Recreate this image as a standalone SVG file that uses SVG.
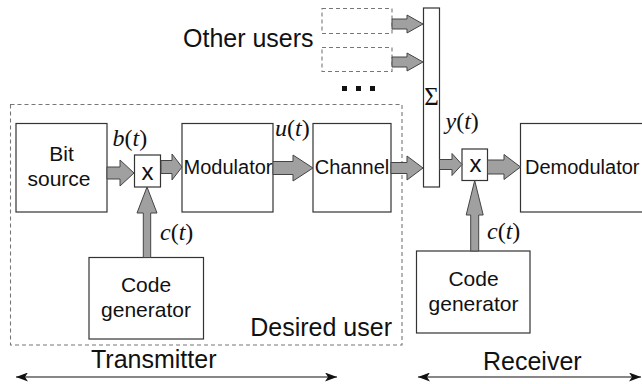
<svg xmlns="http://www.w3.org/2000/svg" width="642" height="384" viewBox="0 0 642 384">
<style>
.box{fill:#fff;stroke:#333;stroke-width:1.2}
.dash{fill:none;stroke:#777;stroke-width:1.1;stroke-dasharray:4 3}
.arr{fill:#a0a0a0;stroke:#444;stroke-width:1;stroke-linejoin:miter}
.lbl{font-family:"Liberation Sans",Arial,sans-serif;fill:#111}
.big{font-size:25px}
.mid{font-size:20px}
.cg{font-size:21px}
.math{font-family:"Liberation Serif","Times New Roman",serif;font-size:24px;fill:#111}
.it{font-style:italic}
.line{stroke:#111;stroke-width:1.2;fill:none}
</style>
<defs>
<marker id="ah" viewBox="0 0 12 9" refX="12" refY="4.5" markerWidth="12" markerHeight="9" markerUnits="userSpaceOnUse" orient="auto-start-reverse">
<path d="M0,0 L12,4.5 L0,9 L3,4.5 Z" fill="#111"/>
</marker>
</defs>

<g id="desired-user">
<rect class="dash" x="10.5" y="104.5" width="391.5" height="240.5"/>
<text class="lbl big" x="392" y="336" text-anchor="end">Desired user</text>
</g>

<g id="other-users">
<text class="lbl big" x="183" y="47">Other users</text>
<rect class="dash" x="322" y="8.5" width="70" height="25"/>
<rect class="dash" x="322" y="47.5" width="70" height="24"/>
<rect x="342" y="86" width="5" height="5" fill="#111"/>
<rect x="356" y="86" width="5" height="5" fill="#111"/>
<rect x="370" y="86" width="5" height="5" fill="#111"/>
</g>

<g id="bit-source">
<rect class="box" x="16" y="123.5" width="91" height="88.5"/>
<text class="lbl cg" x="61.5" y="161" text-anchor="middle">Bit</text>
<text class="lbl cg" x="59" y="186" text-anchor="middle">source</text>
</g>

<g id="mult1">
<rect class="box" x="134.5" y="155" width="26" height="32"/>
<text class="lbl" x="147.5" y="180" font-size="24" text-anchor="middle">x</text>
</g>

<g id="modulator">
<rect class="box" x="182" y="123.5" width="91" height="88.5"/>
<text class="lbl mid" x="228" y="174" text-anchor="middle">Modulator</text>
</g>

<g id="channel">
<rect class="box" x="313" y="123.5" width="78" height="88.5"/>
<text class="lbl mid" x="352" y="174" text-anchor="middle">Channel</text>
</g>

<g id="sum">
<rect class="box" x="423.5" y="8" width="16" height="179"/>
<text x="431.5" y="105" font-family="'Liberation Serif','Times New Roman',serif" font-size="25" text-anchor="middle" fill="#111">Σ</text>
</g>

<g id="mult2">
<rect class="box" x="462" y="149" width="25.5" height="31.5"/>
<text class="lbl" x="475.5" y="172" font-size="24" text-anchor="middle">x</text>
</g>

<g id="demodulator">
<rect class="box" x="520.5" y="123.5" width="130" height="88.5"/>
<text class="lbl mid" x="525" y="174">Demodulator</text>
</g>

<g id="code-gen-tx">
<rect class="box" x="89" y="257.5" width="114.5" height="81.5"/>
<text class="lbl cg" x="146" y="292" text-anchor="middle">Code</text>
<text class="lbl cg" x="146" y="317" text-anchor="middle">generator</text>
</g>

<g id="code-gen-rx">
<rect class="box" x="416.5" y="251" width="113.5" height="82"/>
<text class="lbl cg" x="473.5" y="286" text-anchor="middle">Code</text>
<text class="lbl cg" x="473.5" y="311" text-anchor="middle">generator</text>
</g>

<g id="labels">
<text class="math" x="112.5" y="146"><tspan class="it">b</tspan>(<tspan class="it">t</tspan>)</text>
<text class="math" x="275" y="136"><tspan class="it">u</tspan>(<tspan class="it">t</tspan>)</text>
<text class="math" x="445.5" y="129"><tspan class="it">y</tspan>(<tspan class="it">t</tspan>)</text>
<text class="math" x="160" y="240"><tspan class="it">c</tspan>(<tspan class="it">t</tspan>)</text>
<text class="math" x="487" y="239"><tspan class="it">c</tspan>(<tspan class="it">t</tspan>)</text>
</g>

<g id="connectors">
<polygon class="arr" points="392,19 407,19 407,15 423,24 407,33 407,29 392,29"/>
<polygon class="arr" points="392,57 407,57 407,53 423,62 407,71 407,67 392,67"/>
<polygon class="arr" points="107,167 120,167 120,160 134,173 120,186 120,179 107,179"/>
<polygon class="arr" points="161,160.5 172,160.5 172,154 182,167 172,180 172,173.5 161,173.5"/>
<polygon class="arr" points="273,161.5 293,161.5 293,155 313,168 293,181 293,174.5 273,174.5"/>
<polygon class="arr" points="391,162.5 407,162.5 407,156 423,168 407,180 407,173.5 391,173.5"/>
<polygon class="arr" points="439.5,159.5 452,159.5 452,153.5 462,164.5 452,175.5 452,169.5 439.5,169.5"/>
<polygon class="arr" points="487.5,160 504,160 504,154.5 520.5,167 504,179.5 504,174 487.5,174"/>
<polygon class="arr" points="143.3,257.5 143.3,213 137,213 147,187 157,213 150.7,213 150.7,257.5"/>
<polygon class="arr" points="470.7,251 470.7,215 466.2,215 474.7,180.5 483.2,215 478.7,215 478.7,251"/>
<line class="line" x1="16" y1="377" x2="337" y2="377" marker-start="url(#ah)" marker-end="url(#ah)"/>
<line class="line" x1="418" y1="377" x2="641" y2="377" marker-start="url(#ah)" marker-end="url(#ah)"/>
</g>

<g id="span-labels">
<text class="lbl big" x="91" y="368">Transmitter</text>
<text class="lbl big" x="483" y="370">Receiver</text>
</g>
</svg>
